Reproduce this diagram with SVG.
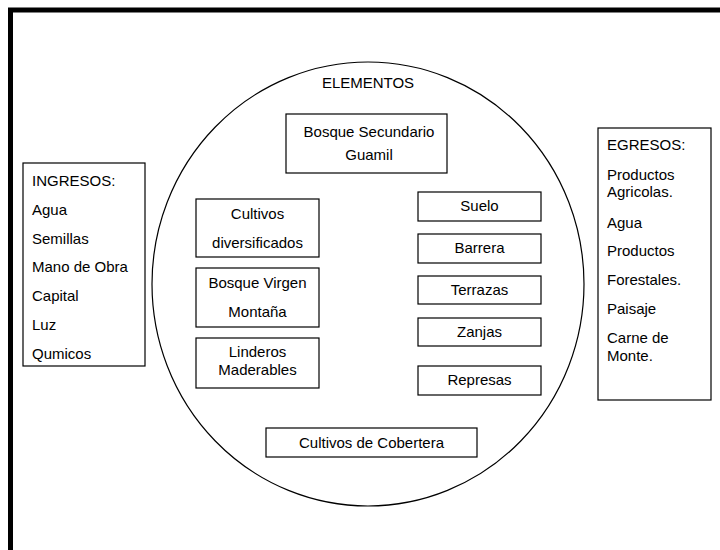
<svg xmlns="http://www.w3.org/2000/svg" width="720" height="550" viewBox="0 0 720 550">
<style>
text{font-family:"Liberation Sans",Arial,sans-serif;font-size:15px;fill:#000}
.c{text-anchor:middle}
.box{fill:#fff;stroke:#000;stroke-width:1.2}
</style>
<rect x="0" y="0" width="720" height="550" fill="#fff"/>
<rect id="frame" x="10.5" y="10" width="730" height="560" fill="none" stroke="#000" stroke-width="5"/>
<g id="elementos">
<ellipse cx="368" cy="284" rx="216" ry="222" fill="none" stroke="#000" stroke-width="1.2"/>
<text class="c" x="368" y="88">ELEMENTOS</text>
</g>
<g id="ingresos">
<rect class="box" x="23" y="163" width="122" height="203"/>
<text x="32" y="186">INGRESOS:</text>
<text x="32" y="215">Agua</text>
<text x="32" y="244">Semillas</text>
<text x="32" y="272">Mano de Obra</text>
<text x="32" y="301">Capital</text>
<text x="32" y="330">Luz</text>
<text x="32" y="359">Qumicos</text>
</g>
<g id="egresos">
<rect class="box" x="598" y="128" width="113" height="272"/>
<text x="607" y="150">EGRESOS:</text>
<text x="607" y="180">Productos</text>
<text x="607" y="197">Agricolas.</text>
<text x="607" y="228">Agua</text>
<text x="607" y="256">Productos</text>
<text x="607" y="285">Forestales.</text>
<text x="607" y="314">Paisaje</text>
<text x="607" y="343">Carne de</text>
<text x="607" y="361">Monte.</text>
</g>
<g id="bosque-secundario">
<rect class="box" x="286" y="114" width="161" height="59"/>
<text class="c" x="369" y="137">Bosque Secundario</text>
<text class="c" x="369" y="160">Guamil</text>
</g>
<g id="cultivos-diversificados">
<rect class="box" x="196" y="199" width="123" height="58"/>
<text class="c" x="257.5" y="219">Cultivos</text>
<text class="c" x="257.5" y="248">diversificados</text>
</g>
<g id="bosque-virgen">
<rect class="box" x="196" y="268" width="123" height="59"/>
<text class="c" x="257.5" y="288">Bosque Virgen</text>
<text class="c" x="257.5" y="317">Montaña</text>
</g>
<g id="linderos">
<rect class="box" x="196" y="338" width="123" height="50"/>
<text class="c" x="257.5" y="357">Linderos</text>
<text class="c" x="257.5" y="375">Maderables</text>
</g>
<g id="suelo">
<rect class="box" x="418" y="192" width="123" height="29"/>
<text class="c" x="479.5" y="211">Suelo</text>
</g>
<g id="barrera">
<rect class="box" x="418" y="234" width="123" height="29"/>
<text class="c" x="479.5" y="253">Barrera</text>
</g>
<g id="terrazas">
<rect class="box" x="418" y="276" width="123" height="28"/>
<text class="c" x="479.5" y="295">Terrazas</text>
</g>
<g id="zanjas">
<rect class="box" x="418" y="318" width="123" height="28"/>
<text class="c" x="479.5" y="337">Zanjas</text>
</g>
<g id="represas">
<rect class="box" x="418" y="366" width="123" height="29"/>
<text class="c" x="479.5" y="385">Represas</text>
</g>
<g id="cultivos-cobertera">
<rect class="box" x="266" y="428" width="211" height="29"/>
<text class="c" x="371.5" y="448">Cultivos de Cobertera</text>
</g>
<g id="connectors"></g>
</svg>
